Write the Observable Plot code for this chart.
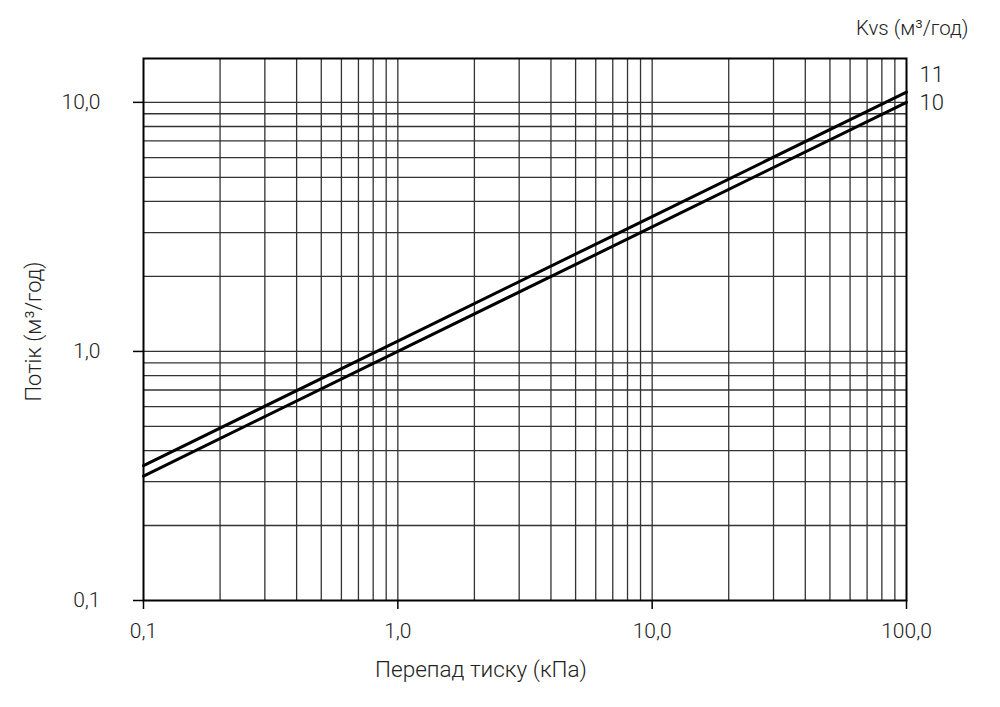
<!DOCTYPE html>
<html>
<head>
<meta charset="utf-8">
<script src="https://cdn.jsdelivr.net/npm/d3@7"></script>
<script src="https://cdn.jsdelivr.net/npm/@observablehq/plot@0.6"></script>
<style>
  html, body { margin: 0; padding: 0; background: #fff; }
  svg { display: block; }
  text { font-weight: 300; }
</style>
</head>
<body>
<div id="chart"></div>
<script>
// Data
const pressure = [0.1, 1, 10, 100];             // kPa
const flowKvs10 = [0.316, 1.0, 3.16, 10.0];     // m³/h
const flowKvs11 = [0.348, 1.1, 3.48, 11.0];     // m³/h
const seriesNames = ["10", "11"];
const seriesEndFlow = [10, 11];

const xTicks = [0.1, 1, 10, 100];
const yTicks = [0.1, 1, 10];
const xGrid = [0.2,0.3,0.4,0.5,0.6,0.7,0.8,0.9,1,2,3,4,5,6,7,8,9,10,20,30,40,50,60,70,80,90];
const yGrid = [0.2,0.3,0.4,0.5,0.6,0.7,0.8,0.9,1,2,3,4,5,6,7,8,9,10];

const xLabel = "Перепад тиску (кПа)";
const yLabel = "Потік (м³/год)";
const legendTitle = "Kvs (м³/год)";

const rows = [];
pressure.forEach((p, i) => rows.push({p, q: flowKvs10[i], kvs: seriesNames[0]}));
pressure.forEach((p, i) => rows.push({p, q: flowKvs11[i], kvs: seriesNames[1]}));

const fmt = d => d.toFixed(1).replace(".", ",");
const textColor = "#222";

const chart = Plot.plot({
  width: 1000,
  height: 707,
  marginLeft: 143,
  marginRight: 94,
  marginTop: 58,
  marginBottom: 107,
  style: {fontFamily: "Roboto", fontSize: "21px", color: textColor, background: "#fff"},
  x: {type: "log", domain: [0.1, 100]},
  y: {type: "log", domain: [0.1, 15]},
  marks: [
    Plot.ruleX(xGrid, {stroke: "#333", strokeWidth: 1.3}),
    Plot.ruleY(yGrid, {stroke: "#333", strokeWidth: 1.3}),
    Plot.line(rows, {x: "p", y: "q", z: "kvs", stroke: "#000", strokeWidth: 3}),
    Plot.frame({stroke: "#000", strokeWidth: 2}),
    Plot.axisX(xTicks, {tickSize: 9, tickPadding: 14, tickFormat: fmt, stroke: "#000", strokeWidth: 1.5, fill: textColor, fontSize: 21, label: null}),
    Plot.axisY(yTicks, {tickSize: 10, tickPadding: 33, tickFormat: fmt, stroke: "#000", strokeWidth: 1.5, fill: textColor, fontSize: 21, label: null}),
    Plot.text([seriesNames[1]], {x: 100, y: [seriesEndFlow[1]], text: d => d, dx: 13, dy: -17, textAnchor: "start", fontSize: 22, fill: textColor}),
    Plot.text([seriesNames[0]], {x: 100, y: [seriesEndFlow[0]], text: d => d, dx: 13, dy: 1, textAnchor: "start", fontSize: 22, fill: textColor}),
    Plot.text([legendTitle], {frameAnchor: "top-right", dx: 62, dy: -38, textAnchor: "end", fontSize: 20.5, fill: textColor}),
    Plot.text([xLabel], {frameAnchor: "bottom", dx: -44, dy: 76, fontSize: 22.5, fill: textColor}),
    Plot.text([yLabel], {frameAnchor: "left", dx: -110, dy: 2, rotate: -90, textAnchor: "middle", fontSize: 22, fill: textColor})
  ]
});
document.getElementById("chart").append(chart);
</script>
</body>
</html>
